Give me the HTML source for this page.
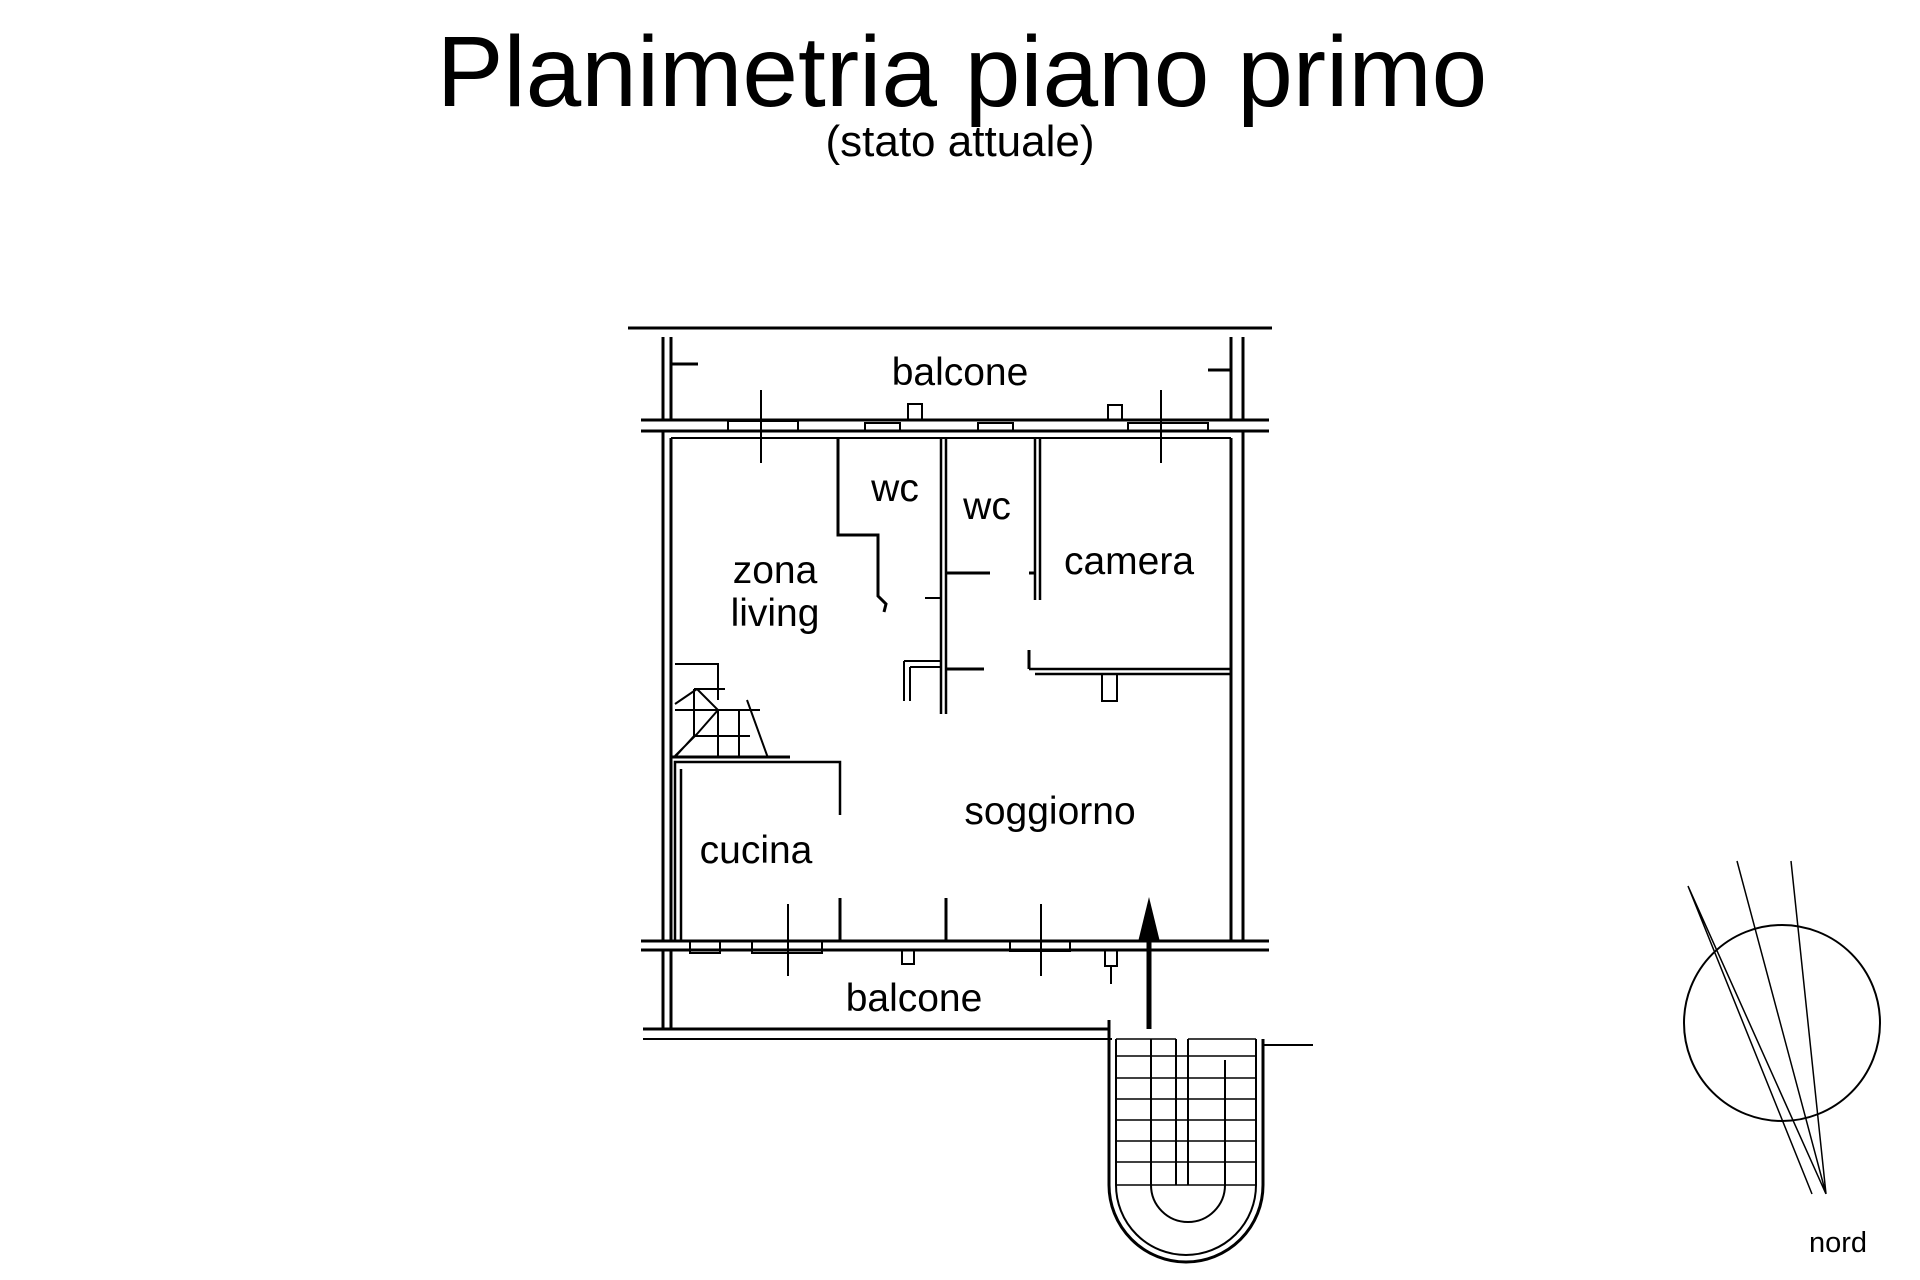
<!DOCTYPE html>
<html><head><meta charset="utf-8"><style>
html,body{margin:0;padding:0;background:#fff;width:1920px;height:1280px;overflow:hidden}
svg{display:block}
text{font-family:"Liberation Sans",sans-serif;fill:#000}
</style></head><body>
<svg width="1920" height="1280" viewBox="0 0 1920 1280" xmlns="http://www.w3.org/2000/svg">
<text x="962" y="106" font-size="100" text-anchor="middle">Planimetria piano primo</text>
<text x="960" y="156" font-size="44" text-anchor="middle">(stato attuale)</text>
<g stroke="#000" fill="none" stroke-width="3">
<line x1="628" y1="328" x2="1272" y2="328"/>
<line x1="663" y1="337" x2="663" y2="420"/><line x1="671" y1="337" x2="671" y2="420"/>
<line x1="1231" y1="337" x2="1231" y2="420"/><line x1="1243" y1="337" x2="1243" y2="420"/>
<path d="M671 364 H698 M1231 370 H1208"/>
<line x1="641" y1="420" x2="1269" y2="420"/>
<line x1="641" y1="431" x2="1269" y2="431"/>
<path d="M908 420 V404 H922 V420 M1108 420 V405 H1122 V420" stroke-width="2"/>
<line x1="663" y1="431" x2="663" y2="941"/><line x1="671" y1="438" x2="671" y2="941"/>
<line x1="1231" y1="438" x2="1231" y2="941"/><line x1="1243" y1="431" x2="1243" y2="941"/>
<line x1="671" y1="438" x2="1231" y2="438" stroke-width="2"/>
<path d="M728 431 v-10 h70 v10 M865 431 v-8 h35 v8 M978 431 v-8 h35 v8 M1128 431 v-8 h80 v8" stroke-width="2"/>
<line x1="761" y1="390" x2="761" y2="463" stroke-width="2"/>
<line x1="1161" y1="390" x2="1161" y2="463" stroke-width="2"/>
<path d="M838 438 V535 H878 V596 L886 604 L884 612"/>
<path d="M941 438 V714 M946 438 V714" stroke-width="2.5"/>
<path d="M925 598 H941 M904 661 V701 M910 667 V701 M904 661 H941 M910 667 H941" stroke-width="2"/>
<path d="M1035 438 V600 M1040 438 V600" stroke-width="2.5"/>
<path d="M946 573 H990 M1029 573 H1035"/>
<path d="M946 669 H984 M1029 650 V669"/>
<path d="M1029 669 H1231 M1035 674 H1231" stroke-width="2.5"/>
<path d="M1102 674 V701 H1117 V674" stroke-width="2"/>
<path d="M675 664 H718 V700 M694 689 H725 M694 689 V736 H750 M675 704 L697 689 M697 689 L718 710 L697 734 L675 756 M675 710 H760 M718 710 V757 M739 710 V757 M747 700 L768 758 M694 736 L675 757" stroke-width="2"/>
<path d="M671 757 H790"/>
<path d="M675 941 V762 H840 V815 M681 941 V769" stroke-width="2.5"/>
<path d="M840 898 V941 M946 898 V941"/>
<line x1="641" y1="941" x2="1269" y2="941"/>
<line x1="641" y1="950" x2="1269" y2="950"/>
<line x1="663" y1="950" x2="663" y2="1029"/><line x1="671" y1="950" x2="671" y2="1029"/>
<path d="M690 941 v12 h30 v-12 M752 941 v12 h70 v-12 M1010 941 v10 h60 v-10" stroke-width="2"/>
<path d="M902 950 v14 h12 v-14 M1105 950 v16 h12 v-16 M1111 966 v18" stroke-width="2"/>
<line x1="788" y1="904" x2="788" y2="976" stroke-width="2"/>
<line x1="1041" y1="904" x2="1041" y2="976" stroke-width="2"/>
<line x1="643" y1="1029" x2="1110" y2="1029"/>
<line x1="643" y1="1039" x2="1112" y2="1039" stroke-width="2"/>
<line x1="1262" y1="1045" x2="1313" y2="1045" stroke-width="2"/>
<!-- external stair -->
<path d="M1109 1020 V1185 A77 77 0 0 0 1263 1185 V1039"/>
<path d="M1116 1039 V1185 A70 70 0 0 0 1256 1185 V1039" stroke-width="2"/>
<path d="M1176 1039 V1185 M1188 1039 V1185" stroke-width="2"/>
<path d="M1151 1039 V1185 A37 37 0 0 0 1225 1185 V1060" stroke-width="2"/>
<path d="M1116 1039 H1176 M1188 1039 H1256 M1116 1056 H1256 M1116 1078 H1256 M1116 1099 H1256 M1116 1120 H1256 M1116 1141 H1256 M1116 1162 H1256 M1116 1185 H1256" stroke-width="1.5"/>
<circle cx="1782" cy="1023" r="98" stroke-width="2"/>
<path d="M1688 886 L1826 1194 M1737 861 L1826 1194 M1791 861 L1826 1194 M1688 886 L1812 1194" stroke-width="1.5"/>
</g>
<line x1="1149" y1="1029" x2="1149" y2="935" stroke="#000" stroke-width="5"/>
<polygon points="1149,897 1138,942 1160,942" fill="#000"/>
<g font-size="39">
<text x="960" y="385" text-anchor="middle">balcone</text>
<text x="895" y="501" text-anchor="middle">wc</text>
<text x="987" y="519" text-anchor="middle">wc</text>
<text x="775" y="583" text-anchor="middle">zona</text>
<text x="775" y="626" text-anchor="middle">living</text>
<text x="1129" y="574" text-anchor="middle">camera</text>
<text x="1050" y="824" text-anchor="middle">soggiorno</text>
<text x="756" y="863" text-anchor="middle">cucina</text>
<text x="914" y="1011" text-anchor="middle">balcone</text>
</g>
<text x="1838" y="1252" font-size="29" text-anchor="middle">nord</text>
</svg>
</body></html>
